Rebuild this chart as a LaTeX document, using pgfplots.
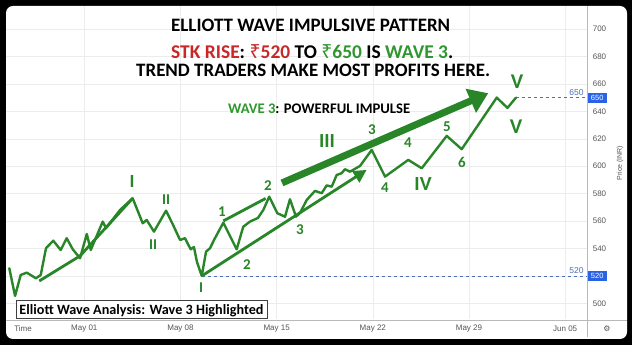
\documentclass[border=0pt]{standalone}
\usepackage{pgfplots}
\pgfplotsset{compat=1.18}
\usepackage{graphicx}
\usepackage{fontspec}
\setmainfont{Carlito}
\newfontfamily\lib{Liberation Sans}
\newfontfamily\rupee{Noto Sans}
\newfontfamily\dejavu{DejaVu Sans}
\usetikzlibrary{arrows.meta}
\definecolor{lg}{RGB}{40,134,40}
\definecolor{tg}{RGB}{48,150,48}
\definecolor{tr}{RGB}{200,40,40}
\definecolor{tvblue}{RGB}{41,98,230}
\definecolor{dblue}{RGB}{80,110,180}
\definecolor{axgray}{RGB}{85,85,85}
\begin{document}
\begin{tikzpicture}
\fill[black] (0,0) rectangle (632pt,345pt);
\fill[white, rounded corners=7pt] (6pt,6pt) rectangle (627pt,339pt);
\begin{axis}[at={(6pt,26pt)}, anchor=south west, scale only axis,
  width=581pt, height=313pt,
  xmin=-4.70, xmax=37.59, ymin=488.6, ymax=716.8,
  axis line style={draw=none}, major tick length=0pt,
  xtick={1,8,15,22,29,36},
  xticklabels={May 01,May 08,May 15,May 22,May 29,Jun 05},
  ytick={500,520,540,560,580,600,620,640,660,680,700},
  yticklabels={500,,540,560,580,600,620,640,660,680,700},
  yticklabel pos=right,
  grid=major, grid style={draw=gray!15, line width=0.5pt},
  xticklabel style={font=\lib\fontsize{8}{9}\selectfont, text=axgray, anchor=center, yshift=-10pt},
  yticklabel style={font=\lib\fontsize{8}{9}\selectfont, text=axgray, anchor=center, xshift=12.5pt},
  /pgf/number format/assume math mode=true,
  clip=false,
]
% dashed levels
\addplot[dblue, dash pattern=on 3pt off 3pt, line width=0.8pt] coordinates {(9.55,520) (37.59,520)};
\addplot[dblue, dash pattern=on 3pt off 3pt, line width=0.8pt] coordinates {(32.42,650) (37.59,650)};
% price line
\addplot[lg, line width=2.4pt, line join=round, line cap=round] coordinates {
(-4.46,525.6) (-4.04,505.4) (-3.63,520.7) (-3.19,522.4) (-2.52,518.3) (-2.17,520.7)
(-1.79,540.2) (-1.26,545.7) (-0.72,538.9) (-0.28,547.5) (0.16,539.4) (0.69,532.9)
(1.18,550.6) (1.47,538.9) (2.34,559.6) (2.58,554.8) (2.87,558.6) (3.60,568.1)
(4.52,576.6) (5.25,558.4) (5.54,560.8) (6.07,552.3) (6.95,567.6) (7.46,557.2)
(7.97,546.2) (8.33,547.5) (8.74,539.4) (8.98,541.1) (9.20,530.2) (9.55,520.0)
(9.86,537.7) (10.15,540.2) (10.44,546.2) (11.12,558.8) (12.09,539.4) (12.57,555.9)
(13.06,559.6) (13.64,562.3) (14.03,568.1) (14.46,577.8) (15.05,565.7) (15.61,563.2)
(15.97,575.9) (16.41,563.2) (16.70,565.9) (17.19,575.4) (17.79,582.0) (18.28,580.3)
(18.64,586.0) (19.01,585.1) (19.37,593.6) (19.73,594.9) (19.97,597.8) (20.34,596.0)
(21.07,600.2) (21.92,611.9) (22.89,592.4) (24.58,604.6) (25.56,598.5) (27.38,622.1)
(28.47,612.4) (31.02,650.0) (31.80,642.5) (32.42,650.0)};
% trend lines
\addplot[lg, line width=2.8pt, line join=round] coordinates {(-2.28,516.3) (0.69,534.6) (4.52,576.6)};
\addplot[lg, line width=2.8pt] coordinates {(11.12,560.1) (14.20,576.5)};
\addplot[lg, line width=2.8pt, -{Triangle[length=13pt,width=13pt]}] coordinates {(9.55,520.0) (21.55,597.3)};
\addplot[lg, line width=7pt, -{Triangle[length=19pt,width=25pt]}] coordinates {(15.39,587.8) (30.40,653.2)};
% price tags
\node[fill=tvblue, text=white, font=\lib\fontsize{7.5}{8}\selectfont, inner sep=0pt, minimum width=20pt, minimum height=10pt, anchor=west] at (axis cs:37.59,650) {650};
\node[fill=tvblue, text=white, font=\lib\fontsize{7.5}{8}\selectfont, inner sep=0pt, minimum width=20pt, minimum height=10pt, anchor=west] at (axis cs:37.59,520) {520};
\node[text=dblue, font=\lib\fontsize{8.5}{9}\selectfont, inner sep=0pt, anchor=south east] at (axis cs:37.35,651.5) {650};
\node[text=dblue, font=\lib\fontsize{8.5}{9}\selectfont, inner sep=0pt, anchor=south east] at (axis cs:37.35,521.5) {520};
\end{axis}
% separators
\draw[gray!55, line width=0.8pt] (6pt,25pt) -- (627pt,25pt);
\draw[gray!55, line width=0.8pt] (587pt,8pt) -- (587pt,339pt);
% axis texts
\node[font=\lib\fontsize{8}{9}\selectfont, text=axgray] at (23pt,16pt) {Time};
\node[font=\lib\fontsize{7}{8}\selectfont, text=axgray, rotate=90] at (620pt,182pt) {Price (INR)};
\node[font=\dejavu\fontsize{8}{8}\selectfont, text=axgray] at (607pt,16pt) {⚙};
% titles
\node[anchor=base west, inner sep=0pt] at (171pt,313pt) {\resizebox{279pt}{!}{\bfseries ELLIOTT WAVE IMPULSIVE PATTERN}};
\node[anchor=base west, inner sep=0pt] at (171pt,286pt) {\resizebox{282pt}{!}{\bfseries \textcolor{tr}{STK RISE}: \textcolor{tr}{{\rupee ₹}520} TO \textcolor{tg}{{\rupee ₹}650} IS \textcolor{tg}{WAVE 3}.}};
\node[anchor=base west, inner sep=0pt] at (136pt,268pt) {\resizebox{354pt}{!}{\bfseries TREND TRADERS MAKE MOST PROFITS HERE.}};
\node[anchor=base west, inner sep=0pt] at (228pt,231.5pt) {\resizebox{182pt}{!}{\bfseries \textcolor{tg}{WAVE 3}: POWERFUL IMPULSE}};
% box
\draw[black!75, line width=0.9pt, fill=white] (16pt,27pt) rectangle (267pt,45pt);
\node[anchor=base west, inner sep=0pt] at (19.3pt,30.7pt) {\resizebox{244pt}{!}{\bfseries Elliott Wave Analysis: Wave 3 Highlighted}};
% wave labels
\begin{scope}[every node/.style={text=lg, inner sep=0pt, font=\bfseries\fontsize{15}{16}\selectfont}]
\node[font=\bfseries\fontsize{18.5}{19}\selectfont] at (132pt,163pt) {I};
\node at (166pt,145pt) {II};
\node at (153pt,100pt) {II};
\node at (201pt,57pt) {I};
\node at (222pt,133pt) {1};
\node at (268pt,159pt) {2};
\node at (247pt,80pt) {2};
\node at (300pt,115pt) {3};
\node[font=\bfseries\fontsize{20}{21}\selectfont] at (327pt,204pt) {III};
\node at (372pt,215pt) {3};
\node at (385pt,157pt) {4};
\node at (408pt,202pt) {4};
\node[font=\bfseries\fontsize{20}{21}\selectfont] at (423pt,161pt) {IV};
\node at (447pt,218pt) {5};
\node at (462pt,183pt) {6};
\node[font=\bfseries\fontsize{21}{22}\selectfont] at (517pt,263pt) {V};
\node[font=\bfseries\fontsize{21}{22}\selectfont] at (516pt,218pt) {V};
\end{scope}
\pgfresetboundingbox
\useasboundingbox (0,0) rectangle (632pt,345pt);
\end{tikzpicture}
\end{document}
